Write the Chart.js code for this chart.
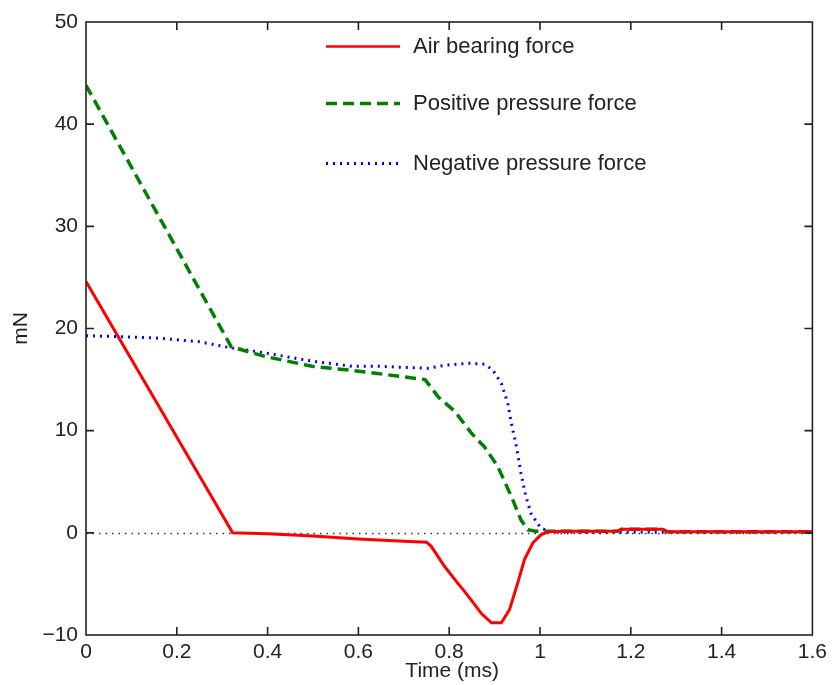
<!DOCTYPE html>
<html>
<head>
<meta charset="utf-8">
<title>Force vs time</title>
<script src="https://cdn.jsdelivr.net/npm/chart.js@4.4.1/dist/chart.umd.min.js"></script>
<style>
  html, body { margin: 0; padding: 0; background: #fff; }
  #wrap { width: 832px; height: 685px; }
</style>
</head>
<body>
<div id="wrap"><canvas id="c" width="832" height="685"></canvas></div>
<script>
// Time samples (ms) and forces (mN) for each curve
const airTime = [0, 0.323, 0.4, 0.5, 0.6, 0.7, 0.75, 0.76, 0.79, 0.813, 0.842, 0.871, 0.893, 0.915, 0.933, 0.951, 0.966, 0.984, 1.002, 1.017, 1.05, 1.17, 1.18, 1.27, 1.28, 1.6];
const airForce = [24.6, 0, -0.1, -0.3, -0.6, -0.82, -0.92, -1.3, -3.3, -4.6, -6.2, -7.9, -8.8, -8.8, -7.5, -4.9, -2.6, -1.0, -0.2, 0.1, 0.15, 0.15, 0.35, 0.35, 0.1, 0.1];

const posTime = [0, 0.32, 0.396, 0.498, 0.585, 0.659, 0.747, 0.776, 0.812, 0.849, 0.878, 0.907, 0.937, 0.958, 0.973, 0.99, 1.17, 1.18, 1.27, 1.28, 1.6];
const posForce = [43.8, 18.2, 17.25, 16.3, 15.9, 15.5, 15.0, 13.3, 11.9, 9.75, 8.4, 6.5, 3.55, 1.27, 0.3, 0.15, 0.15, 0.35, 0.35, 0.1, 0.1];

const negTime = [0, 0.075, 0.162, 0.25, 0.308, 0.396, 0.498, 0.586, 0.644, 0.754, 0.79, 0.842, 0.878, 0.896, 0.915, 0.929, 0.937, 0.948, 0.958, 0.969, 0.98, 1.002, 1.03, 1.6];
const negForce = [19.3, 19.2, 19.05, 18.7, 18.2, 17.6, 16.8, 16.3, 16.3, 16.1, 16.4, 16.6, 16.5, 15.95, 14.6, 12.7, 10.7, 8.45, 5.85, 3.55, 1.9, 0.45, 0.05, 0.05];

const seriesNames = ['Air bearing force', 'Positive pressure force', 'Negative pressure force'];
const xTickLabels = ['0', '0.2', '0.4', '0.6', '0.8', '1', '1.2', '1.4', '1.6'];
const yTickLabels = ['\u221210', '0', '10', '20', '30', '40', '50'];
const xTitle = 'Time (ms)';
const yTitle = 'mN';

const FONT = '"Liberation Sans", Arial, sans-serif';
const INK = '#222';

function toPoints(ts, vs) {
  return ts.map((t, i) => ({ x: t, y: vs[i] }));
}

// Frame, inward ticks, zero reference line, legend and axis titles
const decor = {
  id: 'decor',
  beforeDatasetsDraw(chart) {
    const { ctx, chartArea: a, scales: { y } } = chart;
    const y0 = Math.round(y.getPixelForValue(0)) + 0.5;
    ctx.save();
    ctx.strokeStyle = '#333';
    ctx.lineWidth = 1.5;
    ctx.setLineDash([1.5, 5]);
    ctx.beginPath();
    ctx.moveTo(a.left, y0);
    ctx.lineTo(a.right, y0);
    ctx.stroke();
    ctx.restore();
  },
  afterDraw(chart) {
    const { ctx, chartArea: a, scales: { x, y } } = chart;
    ctx.save();
    ctx.strokeStyle = INK;
    ctx.lineWidth = 1.6;
    ctx.strokeRect(a.left, a.top, a.right - a.left, a.bottom - a.top);

    const tl = 8;
    ctx.beginPath();
    x.ticks.forEach(t => {
      const px = x.getPixelForValue(t.value);
      if (px <= a.left + 1 || px >= a.right - 1) return;
      ctx.moveTo(px, a.bottom); ctx.lineTo(px, a.bottom - tl);
      ctx.moveTo(px, a.top); ctx.lineTo(px, a.top + tl);
    });
    y.ticks.forEach(t => {
      const py = y.getPixelForValue(t.value);
      if (py <= a.top + 1 || py >= a.bottom - 1) return;
      ctx.moveTo(a.left, py); ctx.lineTo(a.left + tl, py);
      ctx.moveTo(a.right, py); ctx.lineTo(a.right - tl, py);
    });
    ctx.stroke();

    // legend
    const rows = [46.5, 103.5, 163.5];
    const lx0 = 326, lx1 = 400, tx = 413;
    chart.data.datasets.forEach((ds, i) => {
      const ry = rows[i];
      ctx.save();
      ctx.strokeStyle = ds.borderColor;
      ctx.lineWidth = i === 0 ? 2.5 : ds.borderWidth;
      ctx.setLineDash(ds.borderDash || []);
      ctx.beginPath();
      ctx.moveTo(lx0, ry);
      ctx.lineTo(lx1, ry);
      ctx.stroke();
      ctx.restore();
      ctx.fillStyle = INK;
      ctx.font = '22px ' + FONT;
      ctx.textAlign = 'left';
      ctx.textBaseline = 'middle';
      ctx.fillText(ds.label, tx, ry);
    });

    // axis titles
    ctx.fillStyle = INK;
    ctx.font = '21px ' + FONT;
    ctx.textAlign = 'center';
    ctx.textBaseline = 'middle';
    ctx.fillText(xTitle, (a.left + a.right) / 2 + 3, 671);
    ctx.save();
    ctx.translate(21, (a.top + a.bottom) / 2);
    ctx.rotate(-Math.PI / 2);
    ctx.fillText(yTitle, 0, 0);
    ctx.restore();
    ctx.restore();
  }
};

new Chart(document.getElementById('c'), {
  type: 'line',
  data: {
    datasets: [
      {
        label: seriesNames[0],
        data: toPoints(airTime, airForce),
        borderColor: '#ff0000',
        borderWidth: 3,
        pointRadius: 0,
        tension: 0
      },
      {
        label: seriesNames[1],
        data: toPoints(posTime, posForce),
        borderColor: '#008000',
        borderWidth: 3.5,
        borderDash: [11, 6],
        pointRadius: 0,
        tension: 0
      },
      {
        label: seriesNames[2],
        data: toPoints(negTime, negForce),
        borderColor: '#0000ff',
        borderWidth: 3,
        borderDash: [2, 5],
        pointRadius: 0,
        tension: 0
      }
    ]
  },
  options: {
    responsive: false,
    animation: false,
    events: [],
    layout: { padding: { top: 22, right: 16, left: 0, bottom: 0 } },
    plugins: { legend: { display: false }, tooltip: { enabled: false } },
    scales: {
      x: {
        type: 'linear',
        min: 0, max: 1.6,
        grid: { display: false, drawTicks: false },
        border: { display: false },
        afterFit(s) { s.height = 50; },
        ticks: {
          stepSize: 0.2,
          padding: 5,
          color: INK,
          font: { family: FONT, size: 21 },
          maxRotation: 0,
          autoSkip: false,
          callback: (v, i) => xTickLabels[i]
        }
      },
      y: {
        type: 'linear',
        min: -10, max: 50,
        grid: { display: false, drawTicks: false },
        border: { display: false },
        afterFit(s) { s.width = 86; },
        ticks: {
          stepSize: 10,
          padding: 8,
          color: INK,
          font: { family: FONT, size: 21 },
          callback: (v, i) => yTickLabels[i]
        }
      }
    }
  },
  plugins: [decor]
});
</script>
</body>
</html>
